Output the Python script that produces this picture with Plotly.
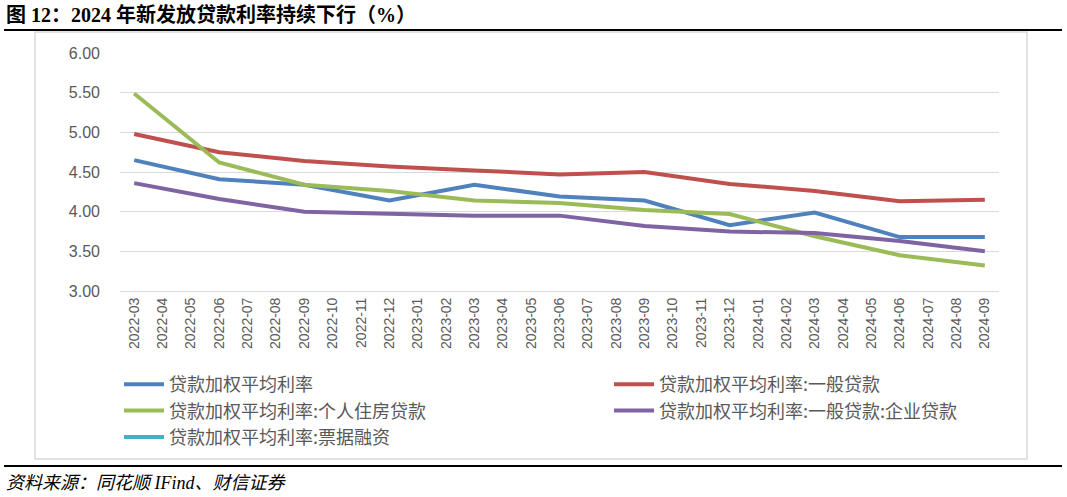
import plotly.graph_objects as go

months = ["2022-03","2022-04","2022-05","2022-06","2022-07","2022-08","2022-09","2022-10","2022-11","2022-12",
          "2023-01","2023-02","2023-03","2023-04","2023-05","2023-06","2023-07","2023-08","2023-09","2023-10",
          "2023-11","2023-12","2024-01","2024-02","2024-03","2024-04","2024-05","2024-06","2024-07","2024-08","2024-09"]
N = None
weighted = [4.65,N,N,4.41,N,N,4.34,N,N,4.14,N,N,4.34,N,N,4.19,N,N,4.14,N,N,3.83,N,N,3.99,N,N,3.68,N,N,3.68]
general  = [4.98,N,N,4.75,N,N,4.64,N,N,4.57,N,N,4.52,N,N,4.47,N,N,4.50,N,N,4.35,N,N,4.26,N,N,4.13,N,N,4.15]
housing  = [5.49,N,N,4.62,N,N,4.34,N,N,4.26,N,N,4.14,N,N,4.11,N,N,4.02,N,N,3.97,N,N,3.69,N,N,3.45,N,N,3.32]
corporate= [4.36,N,N,4.16,N,N,4.00,N,N,3.97,N,N,3.95,N,N,3.95,N,N,3.82,N,N,3.75,N,N,3.73,N,N,3.63,N,N,3.50]
bills    = [N]*len(months)

series = [
    ("贷款加权平均利率", weighted, "#4F81BD", "legend"),
    ("贷款加权平均利率:一般贷款", general, "#C0504D", "legend2"),
    ("贷款加权平均利率:个人住房贷款", housing, "#9BBB59", "legend"),
    ("贷款加权平均利率:一般贷款:企业贷款", corporate, "#8064A2", "legend2"),
    ("贷款加权平均利率:票据融资", bills, "#4BACC6", "legend"),
]

fig = go.Figure()
for name, vals, col, lg in series:
    fig.add_trace(go.Scatter(x=months, y=vals, name=name, mode="lines", connectgaps=True,
                             line=dict(color=col, width=4), legend=lg))

W, H = 1067, 497
L, R, T, B = 120, 999, 53, 291
def px(x): return (x - L) / (R - L)
def py(y): return (B - y) / (B - T)

legend_common = dict(orientation="v", yanchor="top", xanchor="left", itemwidth=40,
                     font=dict(size=18, color="#595959", family="Noto Sans CJK SC"),
                     tracegroupgap=0, bgcolor="rgba(0,0,0,0)", traceorder="normal")

fig.update_layout(
    width=W, height=H,
    margin=dict(l=L, r=W - R, t=T, b=H - B),
    plot_bgcolor="white", paper_bgcolor="white",
    font=dict(family="Liberation Sans, Noto Sans CJK SC", color="#595959"),
    showlegend=True,
    legend=dict(x=px(119), y=py(366), **legend_common),
    legend2=dict(x=px(609), y=py(366), **legend_common),
    xaxis=dict(type="category", range=[-0.5, len(months) - 0.5], tickangle=-90,
               tickfont=dict(size=14, color="#595959"), showgrid=False, automargin=False,
               showline=True, linecolor="#D9D9D9", linewidth=1, ticks="", ticklen=0),
    yaxis=dict(range=[3, 6], dtick=0.5, tickformat=".2f", tickfont=dict(size=16, color="#595959"),
               showgrid=True, gridcolor="#D9D9D9", gridwidth=1, zeroline=False, showline=False,
               ticks="", ticklabelstandoff=19, automargin=False),
)

shapes = [
    dict(type="rect", xref="paper", yref="paper", x0=px(35), x1=px(1027), y0=py(459), y1=py(32),
         line=dict(color="#D9D9D9", width=1.5), fillcolor="rgba(0,0,0,0)", layer="below"),
    dict(type="line", xref="paper", yref="paper", x0=px(4), x1=px(1062), y0=py(30), y1=py(30),
         line=dict(color="black", width=2)),
    dict(type="line", xref="paper", yref="paper", x0=px(4), x1=px(1062), y0=py(466), y1=py(466),
         line=dict(color="black", width=2)),
]
fig.update_layout(shapes=shapes)

fig.add_annotation(text="<b>图 12：2024 年新发放贷款利率持续下行（%）</b>", xref="paper", yref="paper",
                   x=px(4), y=py(15), xanchor="left", yanchor="middle", showarrow=False,
                   font=dict(size=20, color="black", family="Liberation Serif, Noto Sans CJK SC"))
fig.add_annotation(text="<i>资料来源：同花顺 IFind、财信证券</i>", xref="paper", yref="paper",
                   x=px(4), y=py(483), xanchor="left", yanchor="middle", showarrow=False,
                   font=dict(size=18, color="black", family="Liberation Serif, Noto Sans CJK SC"))

fig.write_html("out.html")
